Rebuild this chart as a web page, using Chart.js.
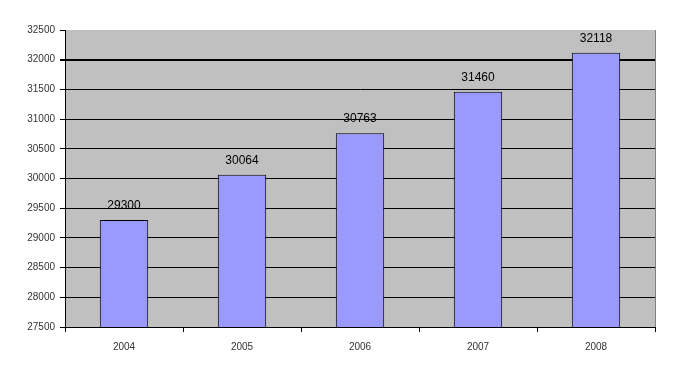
<!DOCTYPE html>
<html>
<head>
<meta charset="utf-8">
<script src="https://cdn.jsdelivr.net/npm/chart.js@4/dist/chart.umd.min.js"></script>
<style>
    html, body { margin: 0; padding: 0; background: #fff; }
    #wrap { width: 673px; height: 378px; }
</style>
</head>
<body>
<div id="wrap"><canvas id="barChart" width="673" height="378"></canvas></div>
<script>
const years = ['2004', '2005', '2006', '2007', '2008'];
const values = [29300, 30064, 30763, 31460, 32118];
const yMin = 27500;
const yMax = 32500;
const yStep = 500;

// grey plot background
const plotBackground = {
    id: 'plotBackground',
    beforeDraw(chart) {
        const { ctx, chartArea: a } = chart;
        ctx.save();
        ctx.fillStyle = '#c0c0c0';
        ctx.fillRect(a.left, a.top, a.right - a.left, a.bottom - a.top);
        ctx.strokeStyle = '#808080';
        ctx.lineWidth = 1;
        ctx.beginPath();
        ctx.moveTo(a.right + 0.5, a.top);
        ctx.lineTo(a.right + 0.5, a.bottom);
        ctx.stroke();
        ctx.restore();
    }
};

// value labels above bars
const valueLabels = {
    id: 'valueLabels',
    afterDatasetsDraw(chart) {
        const { ctx } = chart;
        const meta = chart.getDatasetMeta(0);
        ctx.save();
        ctx.font = '12px "Liberation Sans", Arial, sans-serif';
        ctx.fillStyle = '#000';
        ctx.textAlign = 'center';
        ctx.textBaseline = 'bottom';
        meta.data.forEach((bar, i) => {
            ctx.fillText(String(values[i]), bar.x, bar.y - 8);
        });
        ctx.restore();
    }
};

const tickFont = { family: '"Liberation Sans", Arial, sans-serif', size: 10 };

new Chart(document.getElementById('barChart').getContext('2d'), {
    type: 'bar',
    data: {
        labels: years,
        datasets: [{
            data: values,
            backgroundColor: '#9999ff',
            borderColor: '#000',
            borderWidth: 1,
            borderSkipped: 'bottom',
            barPercentage: 0.41,
            categoryPercentage: 1
        }]
    },
    options: {
        responsive: false,
        animation: false,
        devicePixelRatio: 1,
        layout: { padding: { top: 30, right: 18, left: 0, bottom: 0 } },
        plugins: {
            legend: { display: false },
            tooltip: { enabled: false }
        },
        scales: {
            x: {
                offset: true,
                grid: {
                    offset: true,
                    drawOnChartArea: false,
                    tickLength: 5,
                    tickColor: '#000'
                },
                border: { color: '#000', width: 1 },
                ticks: { color: '#333', font: tickFont, padding: 9 },
                afterFit: (scale) => { scale.height = 51; }
            },
            y: {
                min: yMin,
                max: yMax,
                ticks: {
                    stepSize: yStep,
                    color: '#333',
                    font: tickFont,
                    padding: 5,
                    callback: (v) => String(v)
                },
                grid: {
                    color: (c) => (c.tick && c.tick.value === yMax) ? 'rgba(0,0,0,0)' : '#000',
                    lineWidth: (c) => (c.tick && c.tick.value === 32000) ? 2 : 1,
                    tickColor: '#000',
                    tickLength: 5
                },
                border: { color: '#000', width: 1 },
                afterFit: (scale) => { scale.width = 65; }
            }
        }
    },
    plugins: [plotBackground, valueLabels]
});
</script>
</body>
</html>
